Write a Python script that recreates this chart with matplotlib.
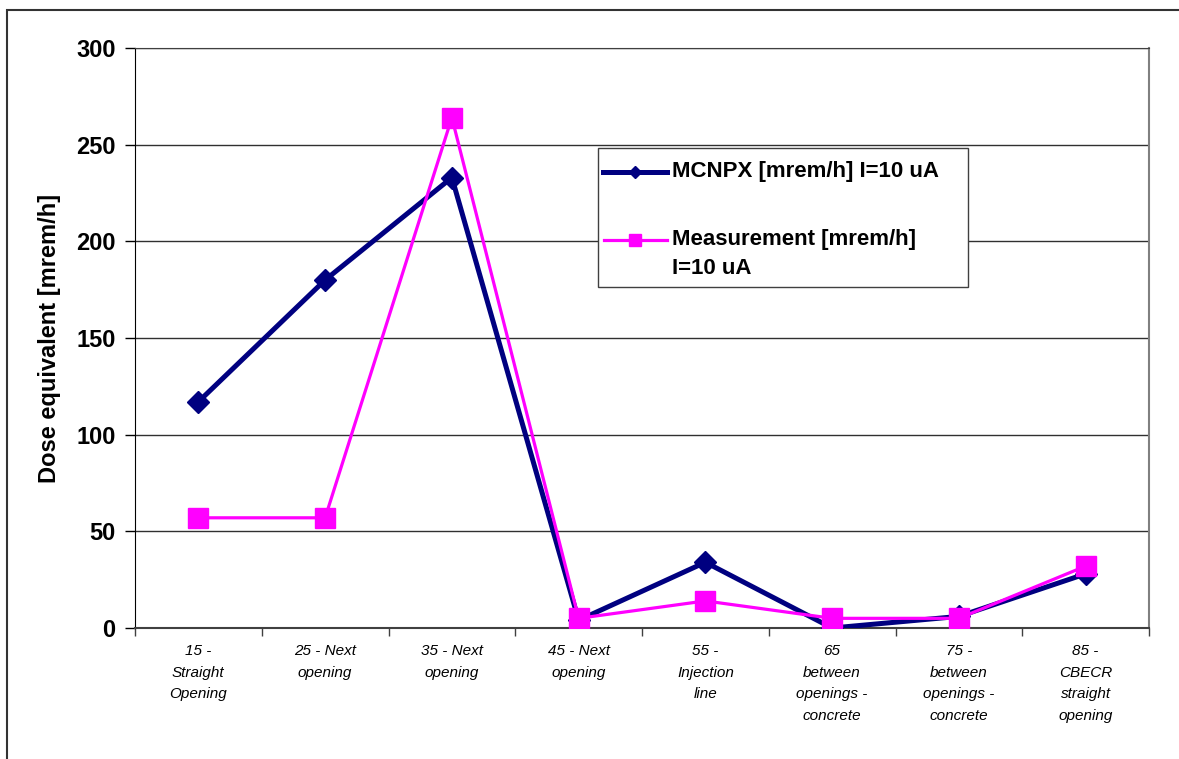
import matplotlib
matplotlib.use("Agg")
import matplotlib.pyplot as plt
from matplotlib.patches import Rectangle
from matplotlib.lines import Line2D

categories = ["15 -\nStraight\nOpening", "25 - Next\nopening", "35 - Next\nopening",
              "45 - Next\nopening", "55 -\nInjection\nline", "65\nbetween\nopenings -\nconcrete",
              "75 -\nbetween\nopenings -\nconcrete", "85 -\nCBECR\nstraight\nopening"]
mcnpx = [117, 180, 233, 4, 34, 0, 6, 28]
measured = [57, 57, 264, 5, 14, 5, 5, 32]
yticks = [0, 50, 100, 150, 200, 250, 300]
series_names = ["MCNPX [mrem/h] I=10 uA", "Measurement [mrem/h]", "I=10 uA"]

NAVY = "#000080"
MAGENTA = "#FF00FF"

plt.rcParams['font.family'] = ['Liberation Sans', 'DejaVu Sans']

W, H = 1179, 759
fig = plt.figure(figsize=(W / 100, H / 100), dpi=100)
ax = fig.add_axes([135/W, 1-628/H, 1014/W, 580/H])

x = list(range(len(categories)))
ax.plot(x, mcnpx, color=NAVY, lw=3.6, marker="D", ms=11, mec=NAVY, zorder=3)
ax.plot(x, measured, color=MAGENTA, lw=2.3, marker="s", ms=14, mec=MAGENTA, zorder=4)

ax.set_xlim(-0.5, len(categories) - 0.5)
ax.set_ylim(0, 300)
ax.set_yticks(yticks)
ax.set_yticklabels([str(v) for v in yticks], fontsize=17, fontweight="bold")
ax.set_ylabel("Dose equivalent [mrem/h]", fontsize=17, fontweight="bold", labelpad=11)
ax.yaxis.grid(True, color="#303030", lw=1)
ax.set_axisbelow(True)
ax.tick_params(axis="y", length=7, width=1, pad=7)

ax.set_xticks([i + 0.5 for i in range(-1, len(categories))])
ax.set_xticklabels([])
ax.tick_params(axis="x", length=6, width=1, color="#404040")
for i, lab in enumerate(categories):
    ax.text(i, -0.028, lab, transform=ax.get_xaxis_transform(), ha="center", va="top",
            fontsize=11, style="italic", linespacing=1.68)

ax.spines["top"].set_color("#404040")
ax.spines["right"].set_color("#808080")
ax.spines["right"].set_linewidth(1.5)
ax.spines["left"].set_color("black")
ax.spines["bottom"].set_color("#404040")
ax.spines["bottom"].set_linewidth(1.5)


# legend box drawn by hand so the handle sits on the first line of a wrapped label
def fx(px):
    return px / W


def fy(py):
    return 1 - py / H


fig.add_artist(Rectangle((fx(598), fy(287)), fx(968) - fx(598), fy(148) - fy(287),
                         transform=fig.transFigure, facecolor="white",
                         edgecolor="#404040", lw=1, zorder=5))
fig.add_artist(Line2D([fx(603), fx(667)], [fy(172), fy(172)], color=NAVY, lw=3.6,
                      transform=fig.transFigure, zorder=6))
fig.add_artist(Line2D([fx(635)], [fy(172)], color=NAVY, marker="D", ms=6,
                      transform=fig.transFigure, zorder=7))
fig.add_artist(Line2D([fx(604), fx(667)], [fy(240), fy(240)], color=MAGENTA, lw=2.3,
                      transform=fig.transFigure, zorder=6))
fig.add_artist(Line2D([fx(635)], [fy(240)], color=MAGENTA, marker="s", ms=8,
                      transform=fig.transFigure, zorder=7))
for name, py in zip(series_names, [172, 240, 268]):
    fig.text(fx(672), fy(py), name, fontsize=16, fontweight="bold",
             ha="left", va="center", zorder=8)

fig.add_artist(Rectangle((7/W, -0.1), 1.2, 1.1 - 10/H, transform=fig.transFigure,
                         fill=False, edgecolor="#333333", lw=1.5))

fig.savefig("out.png", dpi=100)
